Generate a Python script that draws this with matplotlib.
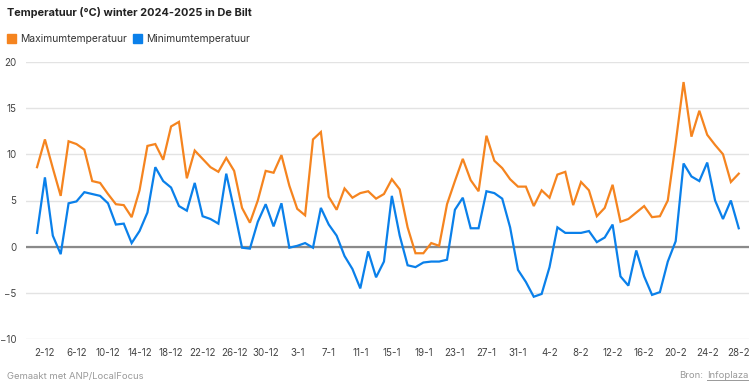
import matplotlib.pyplot as plt
import pandas as pd

# daily values De Bilt, 1 Dec 2024 - 28 Feb 2025
dates = pd.date_range('2024-12-01', '2025-02-28', freq='D')

tmax = [8.6, 11.6, 8.5, 5.5, 11.4, 11.1, 10.5, 7.1, 6.9, 5.7,
        4.6, 4.5, 3.2, 6.1, 10.9, 11.1, 9.4, 13.0, 13.5, 7.4,
        10.4, 9.5, 8.6, 8.1, 9.6, 8.2, 4.2, 2.6, 5.0, 8.2,
        8.0, 9.9, 6.6, 4.1, 3.4, 11.6, 12.4, 5.4, 4.0, 6.3,
        5.3, 5.8, 6.0, 5.2, 5.7, 7.3, 6.2, 2.1, -0.7, -0.7,
        0.4, 0.1, 4.6, 7.1, 9.5, 7.2, 6.0, 12.0, 9.3, 8.5,
        7.3, 6.5, 6.5, 4.4, 6.1, 5.3, 7.8, 8.1, 4.5, 7.0,
        6.1, 3.3, 4.2, 6.7, 2.7, 3.0, 3.7, 4.4, 3.2, 3.3,
        5.0, 11.2, 17.8, 11.9, 14.7, 12.1, 11.0, 10.0, 7.0, 7.9]

tmin = [1.5, 7.5, 1.2, -0.8, 4.7, 4.9, 5.9, 5.7, 5.5, 4.7,
        2.4, 2.5, 0.4, 1.7, 3.7, 8.6, 7.1, 6.4, 4.4, 3.9,
        6.9, 3.3, 3.0, 2.5, 7.9, 4.0, -0.1, -0.2, 2.7, 4.6,
        2.2, 4.7, -0.1, 0.1, 0.4, -0.1, 4.2, 2.4, 1.2, -1.0,
        -2.4, -4.5, -0.5, -3.3, -1.6, 5.5, 1.2, -2.0, -2.2, -1.7,
        -1.6, -1.6, -1.4, 4.0, 5.3, 2.0, 2.0, 6.0, 5.8, 5.2,
        2.1, -2.5, -3.8, -5.4, -5.1, -2.2, 2.1, 1.5, 1.5, 1.5,
        1.7, 0.5, 1.0, 2.4, -3.2, -4.2, -0.4, -3.2, -5.2, -4.9,
        -1.6, 0.6, 9.0, 7.6, 7.1, 9.1, 5.0, 3.0, 5.0, 2.0]

orange = '#F5841F'
blue = '#0A80EA'
W, H = 755, 386

plt.rcParams['font.family'] = ['Inter', 'DejaVu Sans']

fig = plt.figure(figsize=(W/100, H/100), dpi=100)
ax = fig.add_axes([26/W, 1 - 339.3/H, 723/W, 277.6/H])

x = list(range(len(dates)))
ax.plot(x, tmax, color=orange, lw=1.6, solid_joinstyle='miter', zorder=3)
ax.plot(x, tmin, color=blue, lw=1.6, solid_joinstyle='miter', zorder=3)

ax.set_xlim(-1.4, 90.3)
ax.set_ylim(-10, 20)
ax.set_yticks(range(-10, 21, 5))
ax.yaxis.grid(True, color='#e3e3e3', lw=1)
ax.axhline(0, color='#8a8a8a', lw=1.6, zorder=2)
ax.set_axisbelow(True)

ticks = x[1::4]
ax.set_xticks(ticks)
ax.set_xticklabels([f'{dates[i].day}-{dates[i].month}' for i in ticks])
ax.tick_params(length=0, labelsize=7, colors='#444444')
ax.tick_params(axis='x', pad=6)
ax.tick_params(axis='y', pad=7)
for s in ax.spines.values():
    s.set_visible(False)

fig.text(7/W, 1 - 13/H, 'Temperatuur (°C) winter 2024-2025 in De Bilt',
         fontsize=7.9, fontweight='bold', color='#222222', va='center')

# legend
for xs, lbl, c in [(7, 'Maximumtemperatuur', orange), (133, 'Minimumtemperatuur', blue)]:
    fig.patches.append(plt.Rectangle((xs/W, 1 - 43/H), 9/W, 9/H,
                                     transform=fig.transFigure, color=c))
    fig.text((xs + 13)/W, 1 - 38.5/H, lbl, fontsize=7.4, color='#333333', va='center')

fig.text(7/W, 1 - 376/H, 'Gemaakt met ANP/LocalFocus', fontsize=6.8,
         color='#999999', va='center')
t = fig.text(748/W, 1 - 376/H, 'Infoplaza', fontsize=6.8, color='#999999',
             va='center', ha='right')
fig.canvas.draw()
bb = t.get_window_extent()
fig.text((bb.x0 - 3)/W, 1 - 376/H, 'Bron:', fontsize=6.8, color='#999999',
         va='center', ha='right')
fig.add_artist(plt.Line2D([bb.x0/W, bb.x1/W], [(bb.y0 + 0.5)/H] * 2, color='#999999',
                          lw=0.7, transform=fig.transFigure))

fig.savefig('out.png', dpi=100)
